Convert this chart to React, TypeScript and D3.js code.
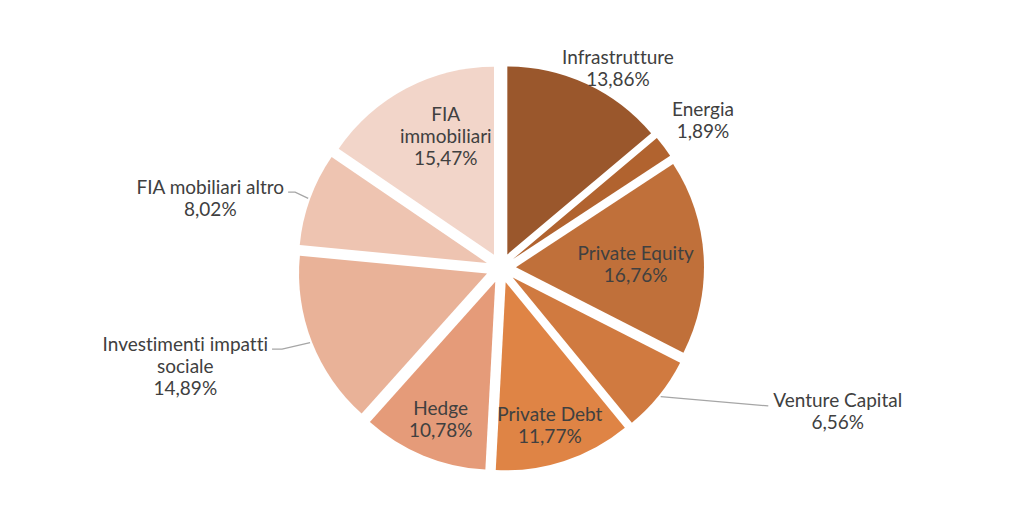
import { useEffect, useRef } from 'react'
import * as d3 from 'd3'

const categories = [
  'Infrastrutture',
  'Energia',
  'Private Equity',
  'Venture Capital',
  'Private Debt',
  'Hedge',
  'Investimenti impatti sociale',
  'FIA mobiliari altro',
  'FIA immobiliari',
]
const values = [13.86, 1.89, 16.76, 6.56, 11.77, 10.78, 14.89, 8.02, 15.47]

const colors = [
  '#9A572C', '#B1632F', '#C0703A', '#D07A40', '#DF8445',
  '#E59B79', '#E9B298', '#EEC4B1', '#F2D5C9',
]

// how each label is wrapped
const wraps: Record<string, string[]> = {
  'FIA immobiliari': ['FIA', 'immobiliari'],
  'Investimenti impatti sociale': ['Investimenti impatti', 'sociale'],
}

// label placement: inside (polar from exploded slice), outside (polar from pie centre), leader (line + text)
type Place = { kind: 'inside' | 'outside' | 'leader'; k: number; deg: number; side?: 'left' | 'right'; elbow?: number }
const placement: Place[] = [
  { kind: 'outside', k: 1.237, deg: 30.2 },
  { kind: 'outside', k: 1.333, deg: 53.7 },
  { kind: 'inside', k: 0.637, deg: 88 },
  { kind: 'leader', k: 1.6, deg: 117.3, side: 'right', elbow: 0 },
  { kind: 'inside', k: 0.79, deg: 162.7 },
  { kind: 'inside', k: 0.782, deg: 201.8 },
  { kind: 'leader', k: 1.292, deg: 250.5, side: 'left', elbow: 10 },
  { kind: 'leader', k: 1.202, deg: 289.6, side: 'left', elbow: 7 },
  { kind: 'inside', k: 0.682, deg: 337.9 },
]

const fmt = (v: number) => v.toFixed(2).replace('.', ',') + '%'

export default function App() {
  const svgRef = useRef<SVGSVGElement>(null)

  useEffect(() => {
    if (!svgRef.current) return
    const svg = d3.select(svgRef.current)
    svg.selectAll('*').remove()

    const cx = 501
    const cy = 268
    const radius = 188
    const explode = 15
    const lineH = 22
    const rad = (deg: number) => (deg * Math.PI) / 180
    const polar = (r: number, a: number): [number, number] => [r * Math.sin(a), -r * Math.cos(a)]

    const g = svg.append('g').attr('transform', `translate(${cx},${cy})`)

    const pie = d3.pie<number>().sort(null).value(d => d)
    const arcs = pie(values)
    const arc = d3.arc<d3.PieArcDatum<number>>().innerRadius(0).outerRadius(radius)

    const mid = (d: d3.PieArcDatum<number>) => (d.startAngle + d.endAngle) / 2

    g.selectAll('path.slice')
      .data(arcs)
      .enter()
      .append('path')
      .attr('class', 'slice')
      .attr('d', arc)
      .attr('fill', (d, i) => colors[i])
      .attr('transform', d => {
        const [x, y] = polar(explode, mid(d))
        return `translate(${x},${y})`
      })

    const font = 'Lato, "Open Sans", sans-serif'

    const drawText = (lines: string[], x: number, y0: number, anchor: string) => {
      const t = g
        .append('text')
        .attr('font-family', font)
        .attr('font-size', 19)
        .attr('fill', '#404040')
        .attr('text-anchor', anchor)
        .style('font-variant-ligatures', 'none')
      lines.forEach((ln, j) => {
        t.append('tspan')
          .attr('x', x)
          .attr('y', y0 + j * lineH)
          .attr('dominant-baseline', 'central')
          .text(ln)
      })
      return t
    }

    arcs.forEach((d, i) => {
      const p = placement[i]
      const name = categories[i]
      const lines = [...(wraps[name] || [name]), fmt(values[i])]
      const [ex, ey] = polar(explode, mid(d))

      if (p.kind === 'inside') {
        const [x, y] = polar(radius * p.k, rad(p.deg))
        drawText(lines, ex + x, ey + y - ((lines.length - 1) * lineH) / 2, 'middle')
      } else if (p.kind === 'outside') {
        const [x, y] = polar(radius * p.k, rad(p.deg))
        drawText(lines, x, y - ((lines.length - 1) * lineH) / 2, 'middle')
      } else {
        const [sx, sy] = polar(radius + 2, mid(d))
        const [x, y] = polar(radius * p.k, rad(p.deg))
        const dir = p.side === 'left' ? 1 : -1
        const pts: [number, number][] = [[ex + sx, ey + sy]]
        if (p.elbow) pts.push([x + dir * p.elbow, y])
        pts.push([x, y])
        g.append('path')
          .attr('d', d3.line()(pts))
          .attr('fill', 'none')
          .attr('stroke', '#A6A6A6')
          .attr('stroke-width', 1.3)

        const t = drawText(lines, 0, y - 6, 'middle')
        const w = (t.node() as SVGTextElement).getBBox().width
        const tx = p.side === 'left' ? x - 4 - w / 2 : x + 5 + w / 2
        t.selectAll('tspan').attr('x', tx)
      }
    })
  }, [])

  return (
    <div style={{ position: 'absolute', left: 0, top: 0, width: 1024, height: 531, background: '#fff' }}>
      <svg ref={svgRef} width={1024} height={531} />
    </div>
  )
}
